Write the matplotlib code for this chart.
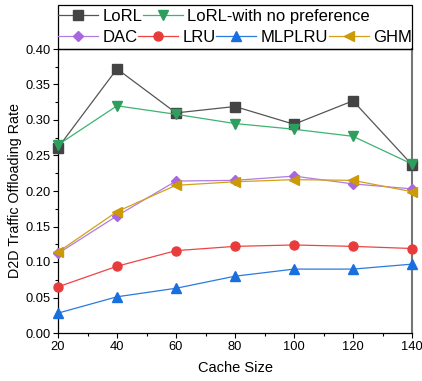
import numpy as np
import matplotlib.pyplot as plt
from matplotlib.patches import Rectangle
from matplotlib.ticker import MultipleLocator

plt.rcParams['font.family'] = ['Liberation Sans', 'DejaVu Sans']

cache = [20, 40, 60, 80, 100, 120, 140]
lorl = [0.261, 0.372, 0.310, 0.319, 0.294, 0.327, 0.237]
lorl_nopref = [0.265, 0.320, 0.308, 0.295, 0.287, 0.277, 0.238]
dac = [0.112, 0.165, 0.214, 0.215, 0.221, 0.210, 0.203]
lru = [0.065, 0.094, 0.116, 0.122, 0.124, 0.122, 0.119]
mlplru = [0.028, 0.051, 0.063, 0.080, 0.090, 0.090, 0.097]
ghm = [0.114, 0.171, 0.208, 0.213, 0.216, 0.215, 0.199]

fig = plt.figure(figsize=(4.22, 3.81), dpi=100)
ax = fig.add_axes([58/422, 48/381, 354/422, 284/381])

series = [
    (lorl, 'LoRL', '#555555', '#444444', 's'),
    (lorl_nopref, 'LoRL-with no preference', '#3cb371', '#2e9e5e', 'v'),
    (dac, 'DAC', '#b07ce0', '#a866e0', 'D'),
    (lru, 'LRU', '#ee4444', '#e83c3c', 'o'),
    (mlplru, 'MLPLRU', '#2a7ae0', '#1a6fdf', '^'),
    (ghm, 'GHM', '#d4a017', '#cc9a06', '<'),
]

lines = []
for vals, name, lc, mc, mk in series:
    ms = 6.5 if mk != 'D' else 5.5
    ln, = ax.plot(cache, vals, color=lc, lw=0.9, marker=mk, markersize=ms,
                  markerfacecolor=mc, markeredgecolor=mc, label=name, clip_on=False, zorder=3)
    lines.append(ln)

ax.set_xlim(20, 140)
ax.set_ylim(0, 0.40)
ax.xaxis.set_major_locator(MultipleLocator(20))
ax.xaxis.set_minor_locator(MultipleLocator(10))
ax.yaxis.set_major_locator(MultipleLocator(0.05))
ax.yaxis.set_minor_locator(MultipleLocator(0.025))
ax.yaxis.set_major_formatter(plt.FuncFormatter(lambda v, p: f'{v:.2f}'))
ax.tick_params(which='both', direction='out', labelsize=9.3, width=0.8)
ax.tick_params(which='major', length=3.5)
ax.tick_params(which='minor', length=2)
ax.tick_params(axis='both', pad=2)
for s in ax.spines.values():
    s.set_linewidth(0.9)
ax.spines['right'].set_color('#777777')
ax.spines['right'].set_linewidth(1.5)

ax.set_xlabel('Cache Size', fontsize=10.5, labelpad=6)
ax.set_ylabel('D2D Traffic Offloading Rate', fontsize=10.3, labelpad=2)

# legend box above axes
fig.patches.append(Rectangle((58/422, 332/381), 354/422, 44/381, transform=fig.transFigure,
                             fill=False, edgecolor='black', linewidth=0.9))
kw = dict(frameon=False, fontsize=12, handlelength=2.4, handletextpad=0.25,
          columnspacing=0.05, borderpad=0, borderaxespad=0, loc='upper left')
leg1 = fig.legend(handles=lines[:2], ncol=2, bbox_to_anchor=(58/422, 372/381), **kw)
leg2 = fig.legend(handles=lines[2:], ncol=4, bbox_to_anchor=(58/422, 351/381), **kw)

fig.savefig('out.png', dpi=100)
